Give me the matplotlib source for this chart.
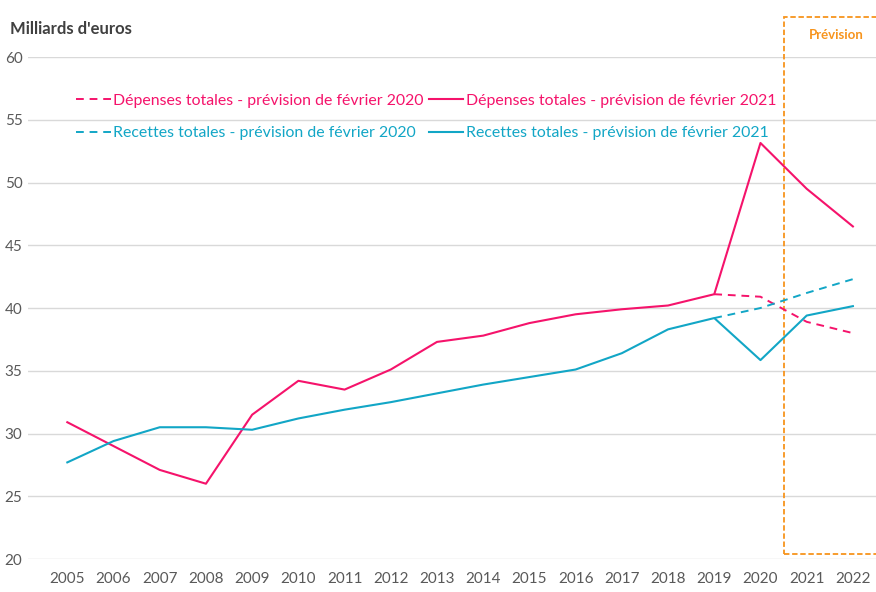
import matplotlib
matplotlib.use("Agg")
import matplotlib.pyplot as plt
from matplotlib.patches import Rectangle

# ---- data (milliards d'euros) ----
years = list(range(2005, 2023))
dep_2021 = [30.9, 29.0, 27.1, 26.0, 31.5, 34.2, 33.5, 35.1, 37.3, 37.8,
            38.8, 39.5, 39.9, 40.2, 41.1, 53.15, 49.5, 46.5]
rec_2021 = [27.7, 29.4, 30.5, 30.5, 30.3, 31.2, 31.9, 32.5, 33.2, 33.9,
            34.5, 35.1, 36.4, 38.3, 39.2, 35.85, 39.4, 40.15]
prev_years = [2019, 2020, 2021, 2022]
dep_2020 = [41.1, 40.9, 38.9, 38.0]
rec_2020 = [39.2, 40.0, 41.2, 42.3]
yticks = [20, 25, 30, 35, 40, 45, 50, 55, 60]

PINK = "#F5136B"
TEAL = "#12A6C6"
ORANGE = "#F7941D"
GREY = "#595959"

plt.rcParams.update({"font.family": ["Lato", "DejaVu Sans"], "font.size": 11})

fig = plt.figure(figsize=(8.76, 5.92), dpi=100)
ax = fig.add_axes([0.032, 0.0557, 0.968, 0.848])

l1, = ax.plot(prev_years, dep_2020, color=PINK, lw=1.4, ls=(0, (4, 3)),
              label="Dépenses totales - prévision de février 2020")
l2, = ax.plot(years, dep_2021, color=PINK, lw=1.5,
              label="Dépenses totales - prévision de février 2021")
l3, = ax.plot(prev_years, rec_2020, color=TEAL, lw=1.4, ls=(0, (4, 3)),
              label="Recettes totales - prévision de février 2020")
l4, = ax.plot(years, rec_2021, color=TEAL, lw=1.5,
              label="Recettes totales - prévision de février 2021")

ax.set_xlim(2004.15, 2022.5)
ax.set_ylim(20, 60)
ax.set_yticks(yticks)
ax.set_xticks(years)
ax.grid(axis="y", color="#d9d9d9", lw=1)
ax.set_axisbelow(True)
for s in ax.spines.values():
    s.set_visible(False)
ax.tick_params(length=0, colors=GREY, labelsize=11)
ax.tick_params(axis="y", pad=4)
ax.tick_params(axis="x", pad=9)

leg = ax.legend(handles=[l1, l3, l2, l4], ncol=2, loc="upper left",
                bbox_to_anchor=(0.04, 0.955), frameon=False,
                handlelength=2.2, handletextpad=0.15, columnspacing=0.3,
                labelspacing=1.15, fontsize=11.4)
for txt, h in zip(leg.get_texts(), [l1, l3, l2, l4]):
    txt.set_color(h.get_color())

# forecast box
ax.add_patch(Rectangle((2020.5, 20.4), 3.0, 42.8, fill=False, ec=ORANGE,
                       lw=1.3, ls=(0, (3, 1.5)), clip_on=False))
ax.text(2021.65, 61.75, "Prévision", color=ORANGE, fontsize=9.5,
        fontweight="bold", ha="center", va="center")

fig.text(0.011, 0.951, "Milliards d'euros", color="#404040", fontsize=12,
         fontweight="bold", ha="left", va="center")

fig.savefig("out.png", dpi=100)
